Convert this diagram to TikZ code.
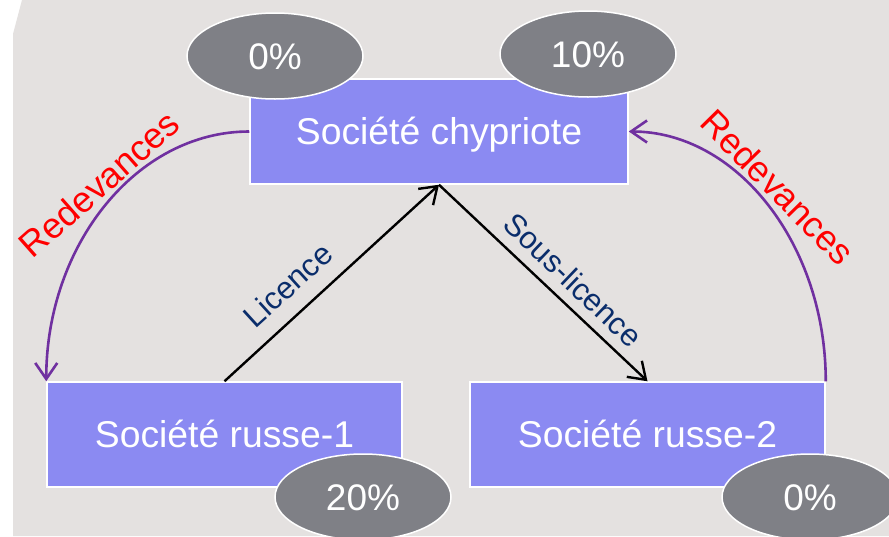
\documentclass[tikz,border=0pt]{standalone}
\usepackage{fontspec}
\setmainfont{Liberation Sans}
\usetikzlibrary{arrows.meta,shapes.geometric}
\definecolor{bgray}{HTML}{E4E1E0}
\definecolor{boxblue}{HTML}{8B8AF2}
\definecolor{pgray}{HTML}{7F8086}
\definecolor{royal}{HTML}{7030A0}
\definecolor{navy}{HTML}{0A2D6B}
\tikzset{
  company/.style={draw=white, line width=1.5pt, fill=boxblue, text=white,
    minimum width=#1, minimum height=105pt, inner sep=0pt,
    text height=26.5pt, text depth=0pt, font=\fontsize{37.3}{42}\selectfont},
  pct/.style={ellipse, draw=white, line width=1.5pt, fill=pgray, text=white,
    minimum width=176pt, minimum height=86pt, inner sep=0pt,
    text height=26.5pt, text depth=0pt, font=\fontsize{37}{42}\selectfont},
  flow/.style={draw=black, line width=2.4pt, -{Straight Barb[length=16pt,width=22pt]}},
  royalty/.style={draw=royal, line width=2.6pt, -{Straight Barb[length=16pt,width=22pt]}},
  redlabel/.style={text=red, inner sep=0pt, font=\fontsize{36}{40}\selectfont},
  navylabel/.style={text=navy, inner sep=0pt, font=\fontsize{31}{35}\selectfont}
}
\begin{document}
\begin{tikzpicture}[x=1pt,y=-1pt]
\useasboundingbox (0,0) rectangle (889,536);
\fill[white] (0,0) rectangle (889,536);
\fill[bgray] (13,536) -- (13,34) -- (22,0) -- (889,0) -- (889,536) -- cycle;

\node[company=378pt] (ch) at (439,131.5) {Société chypriote};
\node[company=355pt] (r1) at (224.5,434.5) {Société russe-1};
\node[company=355pt] (r2) at (647.5,434.5) {Société russe-2};

\node[pct] (p1) at (275,56) {0\%};
\node[pct] (p2) at (588,54) {10\%};
\node[pct] (p3) at (363,497) {20\%};
\node[pct] (p4) at (810,497) {0\%};

\draw[flow] (r1.north) -- (ch.south);
\draw[flow] (ch.south) -- (r2.north);

\draw[royalty] (ch.west) .. controls +(-113,0) and +(0,-136) .. (r1.north west);
\draw[royalty] (r2.north east) .. controls +(0,-137) and +(108,0) .. (ch.east);

\node[navylabel, rotate=42.3] (lic) at (288,285) {Licence};
\node[navylabel, rotate=-43.7] (sous) at (573,280) {Sous-licence};
\node[redlabel, rotate=41.5] (red1) at (99,184) {Redevances};
\node[redlabel, rotate=-45.5] (red2) at (778,187) {Redevances};
\end{tikzpicture}
\end{document}
